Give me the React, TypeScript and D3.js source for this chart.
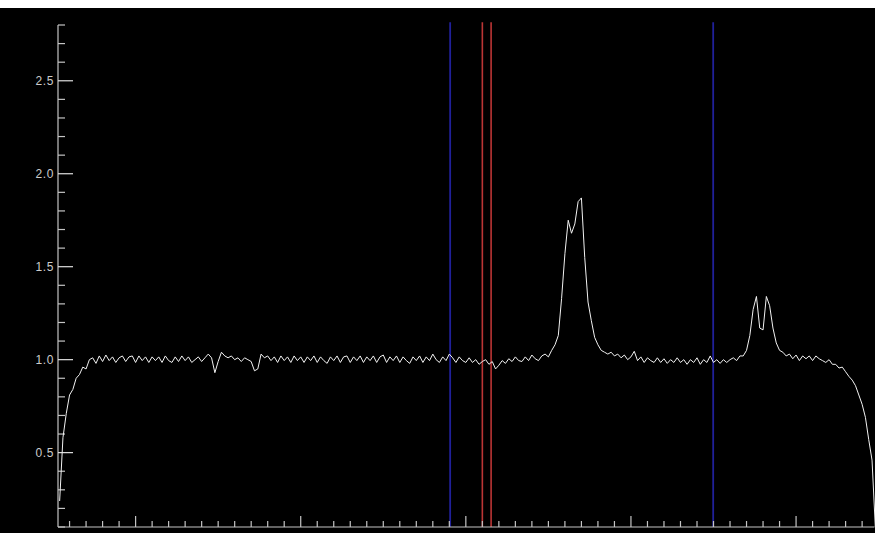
import React from "react";
import * as d3 from "d3";

// Spectrum samples: x starts at 5.4, step 0.2 (arbitrary axis units)
const sampleStart = 5.4;
const sampleStep = 0.2;
const flux = [
  0.24, 0.58, 0.71, 0.81, 0.84, 0.9, 0.92, 0.96, 0.95, 1.0,
  1.01, 0.98, 1.02, 0.99, 1.025, 0.995, 1.015, 0.985, 1.01, 1.02,
  0.99, 1.015, 1.02, 0.985, 1.02, 0.995, 1.015, 0.985, 1.015, 0.995,
  1.015, 0.985, 1.02, 0.995, 0.985, 1.015, 0.99, 1.02, 0.995, 1.015,
  0.985, 1.0, 1.015, 0.99, 1.01, 1.03, 1.01, 0.93, 0.99, 1.04,
  1.02, 1.01, 1.02, 1.0, 1.01, 0.99, 1.01, 1.0, 0.99, 0.94,
  0.95, 1.03, 1.01, 1.02, 0.995, 1.015, 0.985, 1.02, 0.995, 1.015,
  0.985, 1.02, 0.995, 1.015, 0.985, 1.015, 0.995, 1.02, 0.985, 1.015,
  0.995, 0.98, 1.015, 0.995, 1.02, 0.985, 1.015, 1.02, 0.985, 1.015,
  0.995, 1.02, 0.985, 1.015, 0.995, 1.02, 0.985, 1.015, 1.025, 0.985,
  1.015, 0.995, 1.02, 0.985, 1.015, 0.995, 0.98, 1.015, 0.995, 1.02,
  0.985, 1.015, 0.995, 1.03, 1.0, 0.985, 1.015, 0.995, 1.03, 1.01,
  0.985, 1.015, 0.995, 0.985, 1.01, 0.985, 1.0, 0.975, 0.99, 1.0,
  0.975, 0.99, 0.95, 0.97, 0.995, 0.98, 1.005, 0.99, 1.015, 0.995,
  0.99, 1.015, 0.995, 1.025, 1.005, 0.995, 1.02, 1.03, 1.015, 1.05,
  1.08, 1.13, 1.33, 1.57, 1.75, 1.68, 1.73, 1.85, 1.87, 1.55,
  1.31, 1.21, 1.12, 1.08, 1.05, 1.04, 1.03, 1.04, 1.02, 1.03,
  1.01, 1.025, 1.0, 1.015, 1.045, 0.995, 1.015, 0.985, 1.01, 0.995,
  0.985, 1.01, 0.985, 1.005, 0.98, 1.0, 0.985, 1.01, 0.985, 1.0,
  0.975, 1.0, 0.985, 1.01, 0.975, 1.0, 0.985, 1.02, 0.985, 1.0,
  0.98, 1.0, 0.985, 1.0, 1.01, 0.995, 1.02, 1.02, 1.05, 1.13,
  1.27, 1.34, 1.17, 1.16, 1.34, 1.29, 1.17, 1.09, 1.05, 1.04,
  1.02, 1.03, 1.005, 1.025, 0.995, 1.02, 1.005, 1.02, 0.995, 1.02,
  1.005, 0.995, 0.985, 1.0, 0.975, 0.975, 0.955, 0.96, 0.935, 0.91,
  0.89, 0.86, 0.81, 0.76, 0.69, 0.57, 0.46, 0.1,
];

const blueLines = [29.05, 44.98];
const redLines = [31.0, 31.53];
const yTickLabels = ["0.5", "1.0", "1.5", "2.0", "2.5"];

const W = 875;
const H = 533;

export default function App() {
  const x = d3.scaleLinear().domain([5.3, 54.75]).range([58, 874.5]);
  const y = d3.scaleLinear().domain([0.1, 2.8]).range([527, 25]);

  const pts: [number, number][] = flux.map((v, i) => [sampleStart + i * sampleStep, v]);
  const line = d3
    .line<[number, number]>()
    .x((d) => x(d[0]))
    .y((d) => y(d[1]));

  const yMinor = d3.range(1, 29).map((k) => k / 10);
  const xMinor = x.ticks(50);
  const axisColor = "#c4c4c4";
  const [x0, x1] = x.range();
  const [yb, yt] = y.range();

  return (
    <svg
      width={W}
      height={H}
      style={{ position: "absolute", left: 0, top: 0, display: "block" }}
    >
      <rect x={0} y={0} width={W} height={H} fill="#ffffff" />
      <rect x={0} y={8} width={W} height={H - 8} fill="#000000" />

      {/* vertical marker lines */}
      {blueLines.map((v, i) => (
        <line
          key={"b" + i}
          x1={x(v)}
          x2={x(v)}
          y1={y(2.815)}
          y2={yb}
          stroke="#20209a"
          strokeWidth={1.8}
        />
      ))}
      {redLines.map((v, i) => (
        <line
          key={"r" + i}
          x1={x(v)}
          x2={x(v)}
          y1={y(2.815)}
          y2={yb}
          stroke="#bb3535"
          strokeWidth={1.6}
        />
      ))}

      {/* Y axis */}
      <line x1={x0} x2={x0} y1={yt} y2={yb} stroke={axisColor} strokeWidth={1.2} />
      {yMinor.map((v) => {
        const major = Math.abs(v * 2 - Math.round(v * 2)) < 1e-6;
        return (
          <line
            key={"yt" + v}
            x1={x0}
            x2={x0 + (major ? 15 : 7)}
            y1={y(v)}
            y2={y(v)}
            stroke={major ? "#e0e0e0" : axisColor}
            strokeWidth={1.2}
          />
        );
      })}
      {yTickLabels.map((t) => (
        <text
          key={"yl" + t}
          x={x0 - 4}
          y={y(parseFloat(t))}
          dy="0.35em"
          textAnchor="end"
          fill="#cccccc"
          fontFamily="'Liberation Sans', Arial, sans-serif"
          fontSize={12}
          letterSpacing={0.6}
        >
          {t}
        </text>
      ))}

      {/* X axis */}
      <line x1={x0} x2={x1} y1={yb} y2={yb} stroke={axisColor} strokeWidth={1.2} />
      {xMinor.map((v) => {
        const major = v % 10 === 0;
        return (
          <line
            key={"xt" + v}
            x1={x(v)}
            x2={x(v)}
            y1={yb}
            y2={yb - (major ? 11 : 6)}
            stroke={axisColor}
            strokeWidth={1.2}
          />
        );
      })}

      {/* spectrum */}
      <path d={line(pts) || ""} fill="none" stroke="#f2f2f2" strokeWidth={1} />
    </svg>
  );
}
